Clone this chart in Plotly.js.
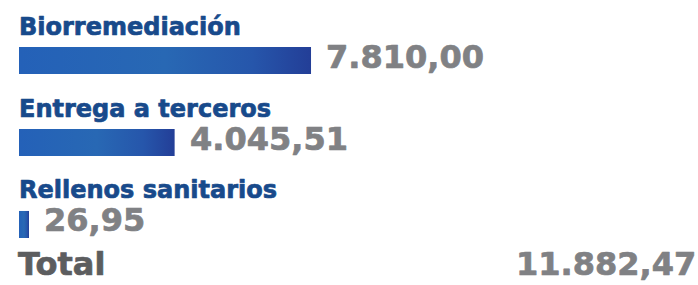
<!DOCTYPE html>
<html>
<head>
<meta charset="utf-8">
<script src="https://cdn.plot.ly/plotly-3.0.1.min.js"></script>
<style>
  html, body { margin: 0; padding: 0; background: #ffffff; }
  #chart { width: 698px; height: 285px; }
</style>
</head>
<body>
<div id="chart"></div>
<script>
// ---- data ----
const categories = ["Biorremediación", "Entrega a terceros", "Rellenos sanitarios"];
const values = [7810.00, 4045.51, 26.95];
const totalLabel = "Total";
const totalValue = 11882.47;

// ---- formatting (es: 11.882,47) ----
function fmt(v) {
  const parts = v.toFixed(2).split(".");
  const int = parts[0].replace(/\B(?=(\d{3})+(?!\d))/g, ".");
  return int + "," + parts[1];
}

const PAD = 250;           // visual minimum bar stub
const FONT = "DejaVu Sans";
const BLUE = "#184a8b";
const GRAY = "#808184";
const DARK = "#5c5d5f";

const trace = {
  type: "bar",
  orientation: "h",
  y: categories,
  x: values.map(v => v + PAD),
  base: -PAD,
  width: 0.33,
  marker: { color: "#2563b6", line: { width: 0 } },
  hoverinfo: "skip"
};

const annotations = [];
categories.forEach((c, i) => {
  annotations.push({
    xref: "paper", yref: "y", x: 0, y: c, xanchor: "left", yanchor: "middle",
    xshift: 19, yshift: 34, showarrow: false, text: c, borderpad: 0, borderwidth: 0,
    font: { family: FONT, size: 24, color: BLUE, weight: "bold" }
  });
  annotations.push({
    xref: "x", yref: "y", x: values[i], y: c, xanchor: "left", yanchor: "middle",
    xshift: 15, yshift: 4, showarrow: false, text: fmt(values[i]), borderpad: 0, borderwidth: 0,
    font: { family: FONT, size: 32, color: GRAY, weight: "bold" }
  });
});
annotations.push({
  xref: "paper", yref: "paper", x: 0, y: 0.075, xanchor: "left", yanchor: "middle",
  xshift: 18, showarrow: false, text: totalLabel, borderpad: 0, borderwidth: 0,
  font: { family: FONT, size: 32, color: DARK, weight: "bold" }
});
annotations.push({
  xref: "paper", yref: "paper", x: 1, y: 0.075, xanchor: "right", yanchor: "middle",
  xshift: -2, showarrow: false, text: fmt(totalValue), borderpad: 0, borderwidth: 0,
  font: { family: FONT, size: 32, color: GRAY, weight: "bold" }
});

const layout = {
  width: 698, height: 285,
  margin: { l: 0, r: 0, t: 0, b: 0, pad: 0 },
  paper_bgcolor: "#ffffff", plot_bgcolor: "#ffffff",
  showlegend: false,
  xaxis: { range: [-774.4, 18491], visible: false, fixedrange: true },
  yaxis: { type: "category", categoryorder: "array", categoryarray: categories,
           range: [2.738, -0.738], visible: false, fixedrange: true },
  annotations: annotations
};

Plotly.newPlot("chart", [trace], layout, { staticPlot: true, displayModeBar: false }).then(gd => {
  const ns = "http://www.w3.org/2000/svg";
  const svg = gd.querySelector(".main-svg");
  let defs = svg.querySelector("defs");
  if (!defs) { defs = document.createElementNS(ns, "defs"); svg.prepend(defs); }
  const lg = document.createElementNS(ns, "linearGradient");
  lg.setAttribute("id", "barGrad");
  lg.setAttribute("x1", "0"); lg.setAttribute("y1", "0");
  lg.setAttribute("x2", "1"); lg.setAttribute("y2", "0");
  [["0", "#2461b8"], ["0.5", "#2868b4"], ["0.8", "#2656ab"], ["1", "#233e97"]].forEach(([o, c]) => {
    const s = document.createElementNS(ns, "stop");
    s.setAttribute("offset", o); s.setAttribute("stop-color", c);
    lg.appendChild(s);
  });
  defs.appendChild(lg);
  gd.querySelectorAll(".trace.bars .point path").forEach(p => { p.style.fill = "url(#barGrad)"; });
  // heavier glyphs, like the reference's extra-bold face
  gd.querySelectorAll(".annotation-text").forEach(t => {
    const col = t.style.fill;
    t.style.stroke = col;
    t.style.strokeWidth = "0.7px";
    t.style.strokeLinejoin = "round";
  });
});
</script>
</body>
</html>
